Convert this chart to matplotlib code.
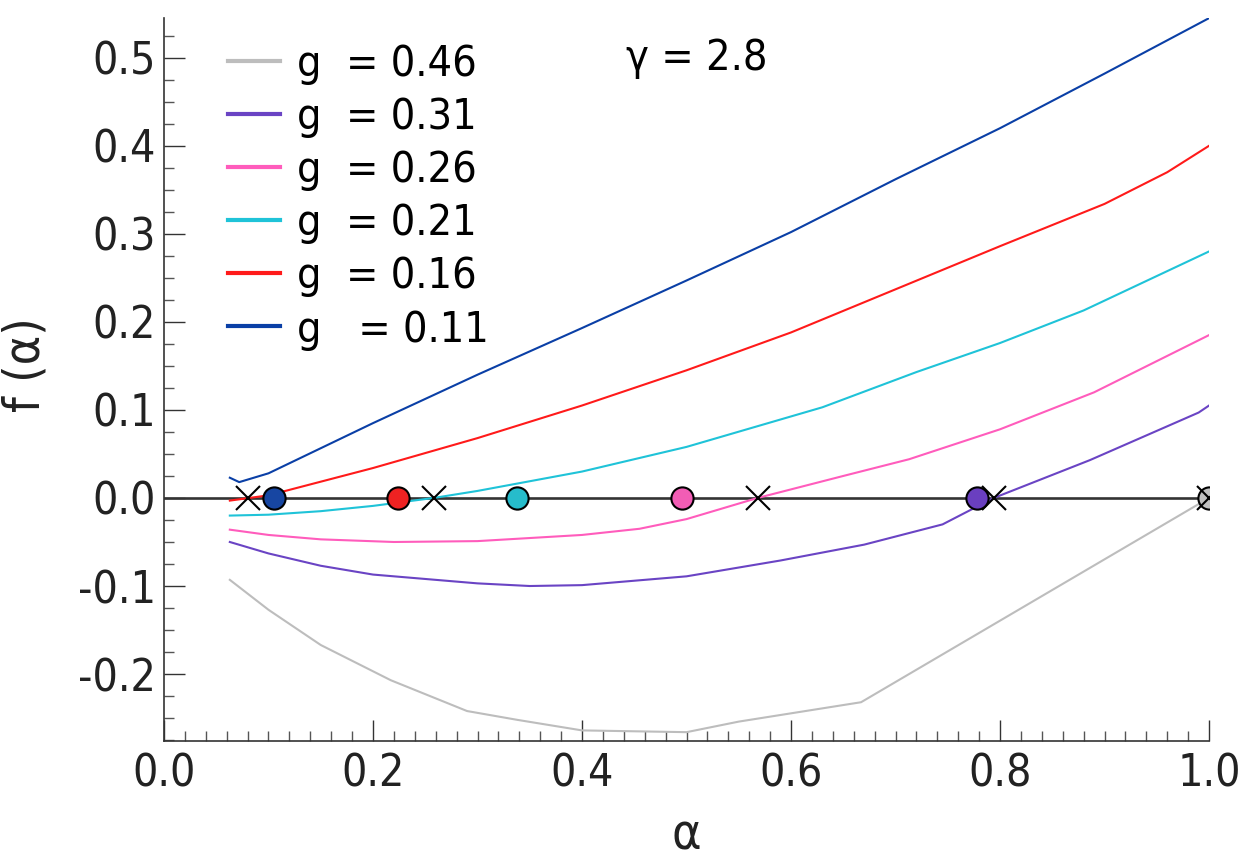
import matplotlib
matplotlib.use("Agg")
import matplotlib.pyplot as plt
from matplotlib.ticker import MultipleLocator

plt.rcParams['font.family'] = ['DejaVu Sans']
plt.rcParams['font.stretch'] = 'condensed'

# curve data
g_labels = ["g  = 0.46", "g  = 0.31", "g  = 0.26", "g  = 0.21", "g  = 0.16", "g   = 0.11"]
colors = ["#bdbdbd", "#6a44c4", "#ff5cbc", "#1fc3d8", "#ff1a1a", "#0a3fa6"]

alpha_046 = [0.063, 0.1, 0.15, 0.217, 0.29, 0.338, 0.4, 0.5, 0.55, 0.667, 1.0]
f_046 = [-0.093, -0.127, -0.167, -0.207, -0.242, -0.252, -0.264, -0.266, -0.254, -0.232, 0.0]

alpha_031 = [0.063, 0.1, 0.15, 0.2, 0.3, 0.35, 0.4, 0.5, 0.59, 0.67, 0.745, 0.794, 0.886, 0.99, 1.0]
f_031 = [-0.05, -0.063, -0.077, -0.087, -0.097, -0.100, -0.099, -0.089, -0.071, -0.053, -0.030, 0.0,
         0.043, 0.097, 0.105]

alpha_026 = [0.063, 0.1, 0.15, 0.22, 0.3, 0.4, 0.455, 0.5, 0.568, 0.65, 0.713, 0.8, 0.89, 1.0]
f_026 = [-0.036, -0.042, -0.047, -0.050, -0.049, -0.042, -0.035, -0.024, 0.0, 0.025, 0.044, 0.078,
         0.12, 0.185]

alpha_021 = [0.063, 0.1, 0.15, 0.2, 0.258, 0.3, 0.4, 0.5, 0.63, 0.72, 0.8, 0.88, 1.0]
f_021 = [-0.020, -0.019, -0.015, -0.009, 0.0, 0.008, 0.030, 0.058, 0.103, 0.143, 0.176, 0.213, 0.28]

alpha_016 = [0.063, 0.1, 0.2, 0.3, 0.4, 0.5, 0.6, 0.7, 0.8, 0.9, 0.96, 1.0]
f_016 = [-0.003, 0.003, 0.034, 0.068, 0.105, 0.145, 0.188, 0.237, 0.286, 0.334, 0.37, 0.40]

alpha_011 = [0.063, 0.072, 0.1, 0.2, 0.3, 0.4, 0.5, 0.6, 0.7, 0.8, 0.9, 1.0]
f_011 = [0.023, 0.018, 0.028, 0.085, 0.140, 0.193, 0.247, 0.302, 0.362, 0.42, 0.482, 0.545]

curves = [(alpha_046, f_046), (alpha_031, f_031), (alpha_026, f_026),
          (alpha_021, f_021), (alpha_016, f_016), (alpha_011, f_011)]

# roots on the f = 0 axis
circle_alpha = [0.105, 0.224, 0.338, 0.496, 0.778, 1.0]
circle_colors = ["#1746a2", "#ee2222", "#26bccb", "#f25db5", "#6a3fc0", "#c0c0c0"]
cross_alpha = [0.080, 0.258, 0.568, 0.794, 1.0]

fig = plt.figure(figsize=(12.48, 8.63), dpi=100)
ax = fig.add_axes([0.1314, 0.1414, 0.8374, 0.8376])

ax.axhline(0, color="#333333", lw=1.9, zorder=1)

for (a, f), c, lab in zip(curves, colors, g_labels):
    ax.plot(a, f, color=c, lw=1.5, label=lab, zorder=2)

for a, c in zip(circle_alpha, circle_colors):
    ax.plot([a], [0], marker='o', ms=16, mfc=c, mec='black', mew=1.5, ls='none', zorder=3)
ax.plot(cross_alpha, [0] * len(cross_alpha), marker='x', ms=17, mec='black', mew=1.5,
        ls='none', zorder=4)

ax.set_xlim(0, 1.0)
ax.set_ylim(-0.276, 0.545)

ax.xaxis.set_major_locator(MultipleLocator(0.2))
ax.xaxis.set_minor_locator(MultipleLocator(0.02))
ax.yaxis.set_major_locator(MultipleLocator(0.1))
ax.yaxis.set_minor_locator(MultipleLocator(0.025))
ax.xaxis.set_major_formatter(plt.FormatStrFormatter('%.1f'))
ax.yaxis.set_major_formatter(plt.FormatStrFormatter('%.1f'))

ax.tick_params(which='major', direction='in', length=15, width=1, color='#333333',
               labelsize=32, labelcolor='#222222')
ax.tick_params(which='minor', direction='in', length=7.5, width=1, color='#555555')
ax.tick_params(axis='y', which='major', pad=6)
ax.tick_params(axis='x', which='major', pad=8)

for s in ['top', 'right']:
    ax.spines[s].set_visible(False)
for s in ['left', 'bottom']:
    ax.spines[s].set_color('#333333')
    ax.spines[s].set_linewidth(1.2)

ax.set_xlabel("α", fontsize=36, color='#222222', labelpad=12)
ax.set_ylabel("f (α)", fontsize=36, color='#222222')
ax.yaxis.set_label_coords(-0.11, 0.52)

ax.text(0.51, 0.945, "γ = 2.8", transform=ax.transAxes, fontsize=31,
        ha='center', va='center', color='black')

leg = ax.legend(loc='upper left', bbox_to_anchor=(0.045, 0.99), frameon=False,
                fontsize=31, handlelength=1.2, handletextpad=0.4, labelspacing=0.26,
                borderaxespad=0)
for line in leg.get_lines():
    line.set_linewidth(3)

fig.savefig("out.png", dpi=100)
